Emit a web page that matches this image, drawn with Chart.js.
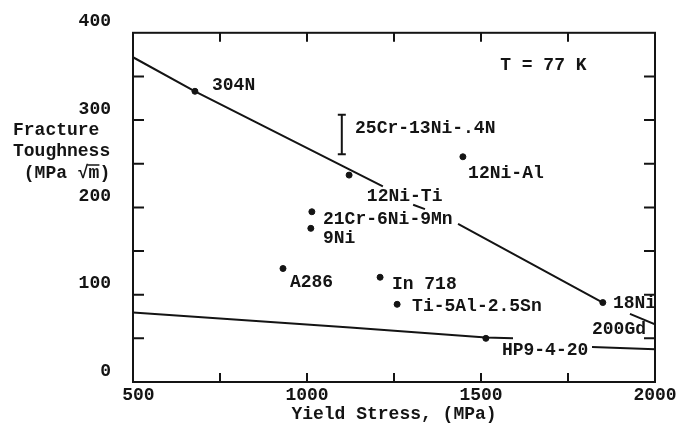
<!DOCTYPE html>
<html>
<head>
<meta charset="utf-8">
<script src="https://cdn.jsdelivr.net/npm/chart.js@4.4.0/dist/chart.umd.min.js"></script>
<style>
  html, body { margin: 0; padding: 0; background: #fff; }
  #wrap { width: 688px; height: 425px; }
</style>
</head>
<body>
<div id="wrap"><canvas id="chart" width="688" height="425"></canvas></div>
<script>
  // alloys measured at 77 K
  const alloyNames = ['304N', '12Ni-Ti', '12Ni-Al', '21Cr-6Ni-9Mn', '9Ni', 'A286', 'In 718', 'Ti-5Al-2.5Sn', '18Ni 200Gd', 'HP9-4-20'];
  const yieldStress = [678, 1121, 1448, 1014, 1011, 931, 1210, 1259, 1850, 1514];
  const toughness = [333, 237, 258, 195, 176, 130, 120, 89, 91, 50];

  // 25Cr-13Ni-.4N scatter band
  const bandStress = [1100, 1100];
  const bandToughness = [261, 306];

  // upper trend line (broken where the labels sit)
  const upperStress = [500, 678, 1218, 1260, 1305, 1339, 1380, 1434, 1850, 1890, 1928, 2000];
  const upperToughness = [372, 333, 224, null, 203, 198, null, 181, 91, null, 78, 66];

  // lower trend line
  const lowerStress = [500, 1124, 1514, 1592, 1700, 1819, 2000];
  const lowerToughness = [79.5, 62.5, 51, 50, null, 40, 37.5];

  const xTickLabels = [500, 1000, 1500, 2000];
  const yTickLabels = [0, 100, 200, 300, 400];

  // text written on the plot, anchored at (stress, toughness)
  const labelText = ['304N', '25Cr-13Ni-.4N', '12Ni-Al', '12Ni-Ti', '21Cr-6Ni-9Mn', '9Ni', 'A286', 'In 718', 'Ti-5Al-2.5Sn', '18Ni', '200Gd', 'HP9-4-20', 'T = 77 K'];
  const labelStress = [727, 1138, 1463, 1172, 1046, 1046, 951, 1244, 1302, 1879, 1819, 1560, 1555];
  const labelToughness = [340, 290, 239, 212, 186, 164, 114, 112, 86, 90, 60, 36, 363];

  const yTitle = ['Fracture', 'Toughness', ' (MPa \u221Am)'];

  const INK = '#141414';
  const FONT = "'Liberation Mono', 'DejaVu Sans Mono', monospace";
  Chart.defaults.font.family = FONT;
  Chart.defaults.font.size = 18;
  Chart.defaults.font.weight = 'bold';
  Chart.defaults.color = INK;

  const toPts = (xs, ys) => xs.map((v, i) => ({ x: v, y: ys[i] }));

  const framePlugin = {
    id: 'frame',
    afterDraw(chart) {
      const { ctx, chartArea: a, scales: { x, y } } = chart;
      ctx.save();
      ctx.strokeStyle = INK;
      ctx.lineWidth = 2;
      ctx.strokeRect(a.left, a.top, a.right - a.left, a.bottom - a.top);

      // inward ticks on all four sides
      ctx.beginPath();
      x.ticks.forEach(t => {
        const px = x.getPixelForValue(t.value);
        if (px <= a.left + 2 || px >= a.right - 2) return;
        ctx.moveTo(px, a.bottom); ctx.lineTo(px, a.bottom - 9);
        ctx.moveTo(px, a.top); ctx.lineTo(px, a.top + 9);
      });
      y.ticks.forEach(t => {
        const py = y.getPixelForValue(t.value);
        if (py <= a.top + 2 || py >= a.bottom - 2) return;
        ctx.moveTo(a.left, py); ctx.lineTo(a.left + 11, py);
        ctx.moveTo(a.right, py); ctx.lineTo(a.right - 11, py);
      });
      ctx.stroke();

      ctx.fillStyle = INK;
      ctx.font = 'bold 18px ' + FONT;
      ctx.textAlign = 'left';
      ctx.textBaseline = 'middle';
      labelText.forEach((s, i) => {
        ctx.fillText(s, x.getPixelForValue(labelStress[i]), y.getPixelForValue(labelToughness[i]));
      });

      // y axis title, written flat like the original
      yTitle.forEach((s, i) => ctx.fillText(s, 13, 130 + i * 21.5));
      // bar of the square root over "m"
      const last = yTitle[2];
      const x0 = 13 + ctx.measureText(last.slice(0, last.indexOf('m'))).width;
      const w = ctx.measureText('m').width;
      ctx.lineWidth = 1.5;
      ctx.beginPath();
      ctx.moveTo(x0 - 1, 130 + 2 * 21.5 - 8);
      ctx.lineTo(x0 + w, 130 + 2 * 21.5 - 8);
      ctx.stroke();
      ctx.restore();
    }
  };

  new Chart(document.getElementById('chart'), {
    type: 'scatter',
    data: {
      datasets: [
        {
          label: 'upper',
          data: toPts(upperStress, upperToughness),
          showLine: true,
          spanGaps: false,
          borderColor: INK,
          borderWidth: 2,
          pointRadius: 0
        },
        {
          label: 'lower',
          data: toPts(lowerStress, lowerToughness),
          showLine: true,
          spanGaps: false,
          borderColor: INK,
          borderWidth: 2,
          pointRadius: 0
        },
        {
          label: '25Cr-13Ni-.4N',
          data: toPts(bandStress, bandToughness),
          showLine: true,
          borderColor: INK,
          borderWidth: 2,
          pointStyle: 'line',
          pointRadius: 4,
          pointBorderWidth: 2,
          pointBorderColor: INK
        },
        {
          label: 'alloys',
          data: toPts(yieldStress, toughness),
          backgroundColor: INK,
          borderColor: INK,
          pointRadius: 3
        }
      ]
    },
    options: {
      responsive: false,
      animation: false,
      layout: { padding: { top: 30, right: 33, left: 0, bottom: 0 } },
      plugins: {
        legend: { display: false },
        tooltip: { enabled: false }
      },
      scales: {
        x: {
          type: 'linear',
          min: 500,
          max: 2000,
          grid: { display: false, drawTicks: false },
          border: { display: false },
          ticks: {
            stepSize: 250,
            padding: 3,
            maxRotation: 0,
            autoSkip: false,
            // the 500 sits a little right of its tick in the original
            callback: v => xTickLabels.includes(v) ? (v === 500 ? ' 500' : String(v)) : ''
          },
          title: {
            display: true,
            text: 'Yield Stress, (MPa)',
            padding: { top: 0, bottom: 0 },
            font: { size: 18, weight: 'bold' }
          },
          afterFit: s => { s.height = 43; }
        },
        y: {
          min: 0,
          max: 400,
          grid: { display: false, drawTicks: false },
          border: { display: false },
          ticks: {
            stepSize: 50,
            padding: 22,
            labelOffset: -11,
            autoSkip: false,
            callback: v => yTickLabels.includes(v) ? String(v) : ''
          },
          afterFit: s => { s.width = 133; }
        }
      }
    },
    plugins: [framePlugin]
  });
</script>
</body>
</html>
